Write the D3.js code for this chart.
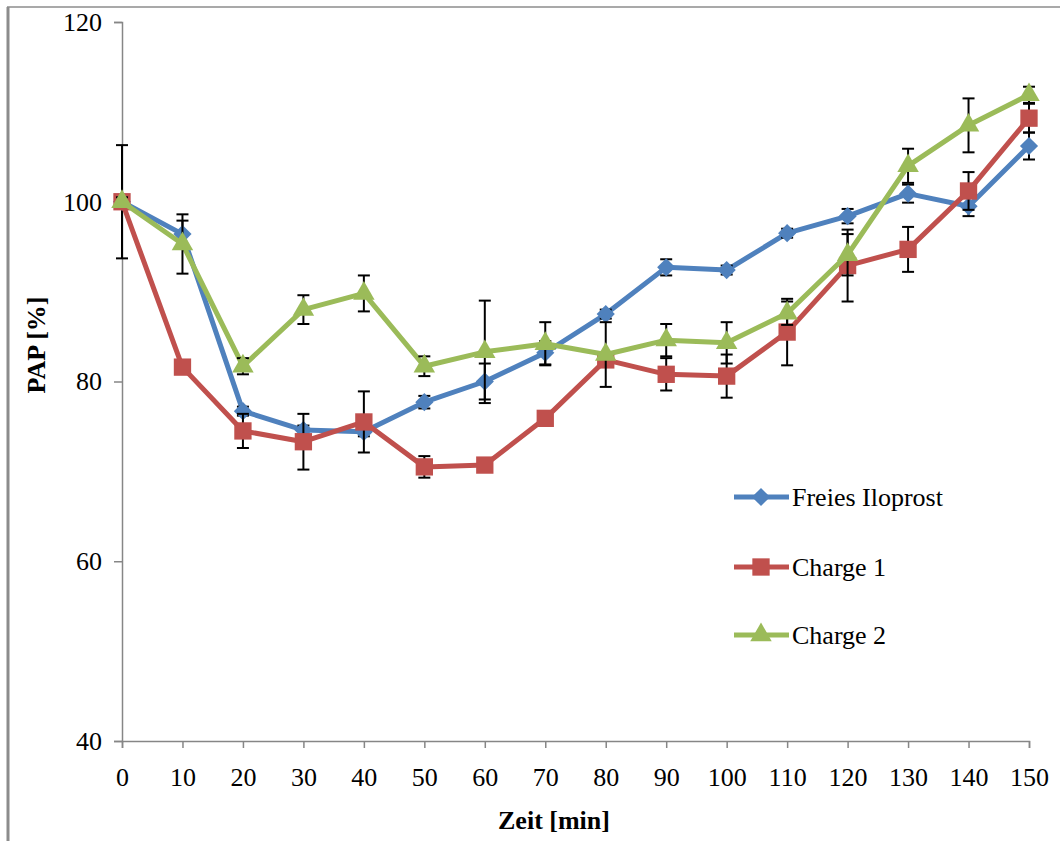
<!DOCTYPE html>
<html>
<head>
<meta charset="utf-8">
<script src="https://cdn.jsdelivr.net/npm/d3@7"></script>
<style>
    body { margin: 0; background: #fff; }
    svg { display: block; font-family: "Liberation Serif", "Times New Roman", serif; }
</style>
</head>
<body>
<svg id="chart" width="1060" height="841"></svg>
<script>
"use strict";

// time points [min]
const zeit = [0, 10, 20, 30, 40, 50, 60, 70, 80, 90, 100, 110, 120, 130, 140, 150];

// PAP [%] per series
const freiesIloprost = [100, 96.4, 76.7, 74.6, 74.4, 77.7, 80.0, 83.2, 87.5, 92.7, 92.4, 96.5, 98.4, 100.9, 99.5, 106.2];
const charge1 = [100, 81.6, 74.5, 73.3, 75.5, 70.5, 70.7, 75.9, 82.4, 80.8, 80.6, 85.5, 92.9, 94.7, 101.2, 109.3];
const charge2 = [100, 95.3, 81.7, 88.0, 89.8, 81.7, 83.3, 84.2, 83.0, 84.6, 84.3, 87.6, 94.1, 104.0, 108.5, 111.9];

// error bars (+/-)
const errFreies = [6.3, 1.5, 0.5, 0.5, 0.5, 0.7, 2.0, 1.3, 0.5, 0.9, 0.5, 0.5, 0.8, 1.0, 1.1, 1.5];
const errCharge1 = [0.5, 0.5, 1.9, 3.1, 3.4, 1.2, 0.5, 0.5, 0.5, 1.8, 2.4, 3.7, 4.0, 2.5, 2.1, 1.6];
const errCharge2 = [0.5, 3.3, 0.9, 1.6, 2.0, 1.1, 5.7, 2.4, 3.6, 1.8, 2.3, 1.3, 2.3, 1.9, 3.0, 0.9];

const seriesNames = ["Freies Iloprost", "Charge 1", "Charge 2"];
const seriesColors = ["#4F81BD", "#C0504D", "#9BBB59"];

const yTicks = [40, 60, 80, 100, 120];

// excel-like wide diamond (custom symbol type)
const wideDiamond = {
    draw: (context, size) => {
        const r = Math.sqrt(size / 2);
        context.moveTo(0, -r);
        context.lineTo(r, 0);
        context.lineTo(0, r);
        context.lineTo(-r, 0);
        context.closePath();
    }
};
const seriesSymbols = [wideDiamond, d3.symbolSquare, d3.symbolTriangle];
const markerSizes = [165, 300, 200];

const chart = {
    SVG: d3.select("#chart"),
    margin: { left: 122, top: 22, right: 1029, bottom: 741 },
    render: () => {
        const svg = chart.SVG;
        const m = chart.margin;

        // outer frame (left and top only)
        svg.append("line").attr("x1", 8).attr("y1", 7).attr("x2", 8).attr("y2", 841)
            .attr("stroke", "#8c8c8c").attr("stroke-width", 3);
        svg.append("line").attr("x1", 7).attr("y1", 7).attr("x2", 1060).attr("y2", 7)
            .attr("stroke", "#8c8c8c").attr("stroke-width", 1.5);

        const x = d3.scaleLinear().domain([0, 150]).range([m.left, m.right]);
        const y = d3.scaleLinear().domain([40, 120]).range([m.bottom, m.top]);

        // axes
        const xAxis = svg.append("g")
            .attr("transform", "translate(0," + m.bottom + ")")
            .call(d3.axisBottom(x).tickValues(zeit).tickSize(7).tickPadding(20));
        const yAxis = svg.append("g")
            .attr("transform", "translate(" + m.left + ",0)")
            .call(d3.axisLeft(y).tickValues(yTicks).tickSize(8).tickPadding(12));
        [xAxis, yAxis].forEach(a => {
            a.select(".domain").attr("stroke", "#868686").attr("stroke-width", 1.5);
            a.selectAll(".tick line").attr("stroke", "#868686").attr("stroke-width", 1.5);
            a.selectAll(".tick text")
                .attr("fill", "#000")
                .style("font-size", "26px")
                .style("font-family", "Liberation Serif, Times New Roman, serif");
        });
        xAxis.selectAll(".tick text").attr("dy", "0.71em");

        // axis titles
        svg.append("text")
            .attr("x", 554).attr("y", 829)
            .attr("text-anchor", "middle")
            .style("font-size", "26px").style("font-weight", "bold")
            .text("Zeit [min]");
        svg.append("text")
            .attr("transform", "translate(45,345) rotate(-90)")
            .attr("text-anchor", "middle")
            .style("font-size", "26px").style("font-weight", "bold")
            .text("PAP [%]");

        const allValues = [freiesIloprost, charge1, charge2];
        const allErrors = [errFreies, errCharge1, errCharge2];

        const line = d3.line().x(d => x(d.t)).y(d => y(d.v));

        // draw each series: line, error bars, markers
        allValues.forEach((vals, s) => {
            const pts = zeit.map((t, i) => ({ t: t, v: vals[i], e: allErrors[s][i] }));
            const g = svg.append("g").attr("class", "series");

            g.append("path")
                .datum(pts)
                .attr("d", line)
                .attr("fill", "none")
                .attr("stroke", seriesColors[s])
                .attr("stroke-width", 5)
                .attr("stroke-linejoin", "round");

            const eb = g.selectAll(".err").data(pts).enter().append("g").attr("class", "err")
                .attr("stroke", "#000").attr("stroke-width", 2);
            eb.append("line")
                .attr("x1", d => x(d.t)).attr("x2", d => x(d.t))
                .attr("y1", d => y(d.v + d.e)).attr("y2", d => y(d.v - d.e));
            eb.append("line")
                .attr("x1", d => x(d.t) - 6).attr("x2", d => x(d.t) + 6)
                .attr("y1", d => y(d.v + d.e)).attr("y2", d => y(d.v + d.e));
            eb.append("line")
                .attr("x1", d => x(d.t) - 6).attr("x2", d => x(d.t) + 6)
                .attr("y1", d => y(d.v - d.e)).attr("y2", d => y(d.v - d.e));

            g.selectAll(".marker").data(pts).enter().append("path")
                .attr("class", "marker")
                .attr("transform", d => "translate(" + x(d.t) + "," + y(d.v) + ")")
                .attr("d", d3.symbol().type(seriesSymbols[s]).size(markerSizes[s]))
                .attr("fill", seriesColors[s]);
        });

        // legend
        const legendRows = [497, 567, 635];
        seriesNames.forEach((name, s) => {
            const lg = svg.append("g").attr("transform", "translate(0," + legendRows[s] + ")");
            lg.append("line").attr("x1", 734).attr("x2", 789).attr("y1", 0).attr("y2", 0)
                .attr("stroke", seriesColors[s]).attr("stroke-width", 5);
            lg.append("path")
                .attr("transform", "translate(761,0)")
                .attr("d", d3.symbol().type(seriesSymbols[s]).size(markerSizes[s]))
                .attr("fill", seriesColors[s]);
            lg.append("text")
                .attr("x", 792).attr("y", 0).attr("dy", "0.35em")
                .style("font-size", "26px")
                .text(name);
        });
    }
};

chart.render();
</script>
</body>
</html>
